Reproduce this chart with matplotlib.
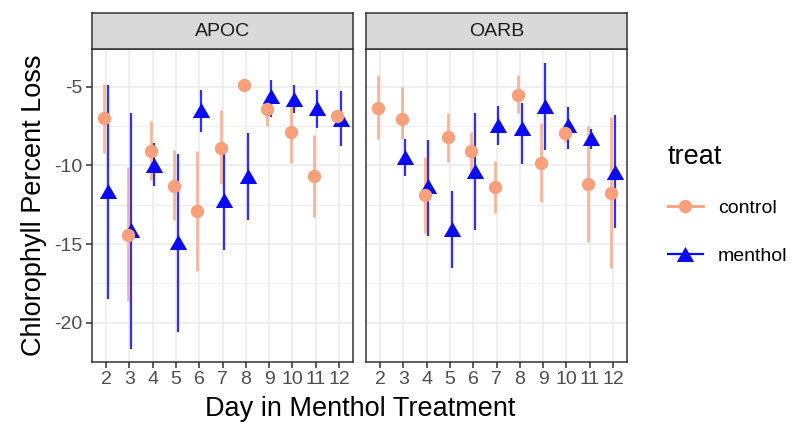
import numpy as np
import matplotlib
matplotlib.use('Agg')
import matplotlib.pyplot as plt
from matplotlib.lines import Line2D

plt.rcParams['font.family'] = ['Liberation Sans', 'DejaVu Sans']

#Datos
dias = [2, 3, 4, 5, 6, 7, 8, 9, 10, 11, 12]
sitios = ['APOC', 'OARB']

apoc_control = [-7.0, -14.4, -9.1, -11.3, -12.9, -8.9, -4.9, -6.4, -7.9, -10.65, -6.85]
apoc_control_lo = [-9.2, -18.6, -10.9, -13.5, -16.7, -11.2, -5.0, -7.5, -9.85, -13.3, -7.3]
apoc_control_hi = [-4.8, -10.1, -7.2, -9.0, -9.1, -6.5, -4.8, -5.95, -6.2, -8.05, -6.5]

apoc_menthol = [-11.65, -14.1, -9.95, -14.9, -6.45, -12.2, -10.7, -5.6, -5.8, -6.35, -7.05]
apoc_menthol_lo = [-18.5, -21.7, -11.3, -20.6, -7.85, -15.4, -13.5, -6.9, -6.7, -7.6, -8.75]
apoc_menthol_hi = [-4.9, -6.7, -8.6, -9.3, -5.2, -9.3, -7.95, -4.6, -4.9, -5.2, -5.3]

oarb_control = [-6.35, -7.05, -11.9, -8.2, -9.1, -11.4, -5.5, -9.85, -7.95, -11.2, -11.75]
oarb_control_lo = [-8.35, -8.35, -14.3, -9.8, -10.4, -13.05, -6.7, -12.3, -8.5, -14.9, -16.5]
oarb_control_hi = [-4.25, -5.0, -9.45, -6.65, -7.9, -9.75, -4.25, -7.3, -7.4, -7.5, -6.9]

oarb_menthol = [np.nan, -9.45, -11.3, -14.05, -10.35, -7.45, -7.6, -6.2, -7.45, -8.25, -10.4]
oarb_menthol_lo = [np.nan, -10.7, -14.5, -16.5, -14.1, -8.7, -9.9, -9.05, -8.95, -8.95, -14.0]
oarb_menthol_hi = [np.nan, -8.3, -8.4, -11.65, -6.7, -6.2, -6.05, -3.5, -6.3, -7.7, -6.8]

datos = {
    'APOC': [(apoc_menthol, apoc_menthol_lo, apoc_menthol_hi),
             (apoc_control, apoc_control_lo, apoc_control_hi)],
    'OARB': [(oarb_menthol, oarb_menthol_lo, oarb_menthol_hi),
             (oarb_control, oarb_control_lo, oarb_control_hi)],
}

colorControl = '#F8A07C'
colorMenthol = '#0A0AF5'
triangulo = [(-1, -0.866), (1, -0.866), (0, 0.866)]

#Estilos de cada grupo: menthol, control (control se dibuja arriba)
estilos = [
    dict(color=colorMenthol, marker=triangulo, ms=12.5, dx=0.075, lw=1.6, alpha=0.85),
    dict(color=colorControl, marker='o', ms=9.6, dx=-0.075, lw=2.0, alpha=0.75),
]

W, H = 802, 429
fig = plt.figure(figsize=(W / 100, H / 100), dpi=100)

def ejesPx(x0, y0, x1, y1):
    return fig.add_axes([x0 / W, 1 - y1 / H, (x1 - x0) / W, (y1 - y0) / H])

bordes = [(92, 353), (366, 627)]
dias_arr = np.array(dias, dtype=float)

for i, sitio in enumerate(sitios):
    x0, x1 = bordes[i]
    ax = ejesPx(x0, 49, x1, 362)
    strip = ejesPx(x0, 13, x1, 49)

    #Franja con el nombre del sitio
    strip.set_facecolor('#D9D9D9')
    strip.set_xticks([])
    strip.set_yticks([])
    for s in strip.spines.values():
        s.set_color('#333333')
        s.set_linewidth(1.1)
    strip.text(0.5, 0.5, sitio, ha='center', va='center', fontsize=14,
               color='#1A1A1A', transform=strip.transAxes)

    #Barras de error primero, puntos despues
    for (media, lo, hi), est in zip(datos[sitio], estilos):
        ax.vlines(dias_arr + est['dx'], lo, hi, color=est['color'],
                  lw=est['lw'], alpha=est['alpha'], zorder=2)
    for (media, lo, hi), est in zip(datos[sitio], estilos):
        ax.plot(dias_arr + est['dx'], media, linestyle='none', marker=est['marker'],
                ms=est['ms'], color=est['color'], mec='none', zorder=3)

    ax.set_xlim(1.4, 12.6)
    ax.set_ylim(-22.4, -2.6)
    ax.set_xticks(dias)
    ax.set_yticks([-20, -15, -10, -5])
    ax.set_yticks([-22.5, -17.5, -12.5, -7.5], minor=True)
    ax.set_yticklabels(['-20', '-15', '-10', '-5'])
    ax.grid(True, which='major', color='#EBEBEB', lw=1.1, zorder=0)
    ax.grid(True, which='minor', axis='y', color='#EBEBEB', lw=0.55, zorder=0)
    ax.set_axisbelow(True)
    for s in ax.spines.values():
        s.set_color('#333333')
        s.set_linewidth(1.1)
    ax.tick_params(which='major', length=4.3, width=1.1, color='#333333',
                   labelsize=14, labelcolor='#4D4D4D', pad=2.5)
    ax.tick_params(which='minor', length=0)
    if i == 0:
        ax.set_ylabel('Chlorophyll Percent Loss', fontsize=19.5, labelpad=5)
    else:
        ax.tick_params(axis='y', which='both', left=False, labelleft=False)

fig.text(360 / W, 1 - 409 / H, 'Day in Menthol Treatment', ha='center', va='center',
         fontsize=19.5)

#Leyenda
manejadores = [
    Line2D([], [], color=colorControl, marker='o', ms=9.6, lw=2.0, mec='none'),
    Line2D([], [], color=colorMenthol, marker=triangulo, ms=12.5, lw=1.6, mec='none'),
]
fig.legend(manejadores, ['control', 'menthol'], title='treat', loc='upper left',
           bbox_to_anchor=(650 / W, 1 - 126 / H), frameon=False, fontsize=14,
           title_fontsize=19.5, alignment='left', handlelength=1.8,
           handletextpad=0.8, labelspacing=1.55)

fig.savefig('out.png', dpi=100)
